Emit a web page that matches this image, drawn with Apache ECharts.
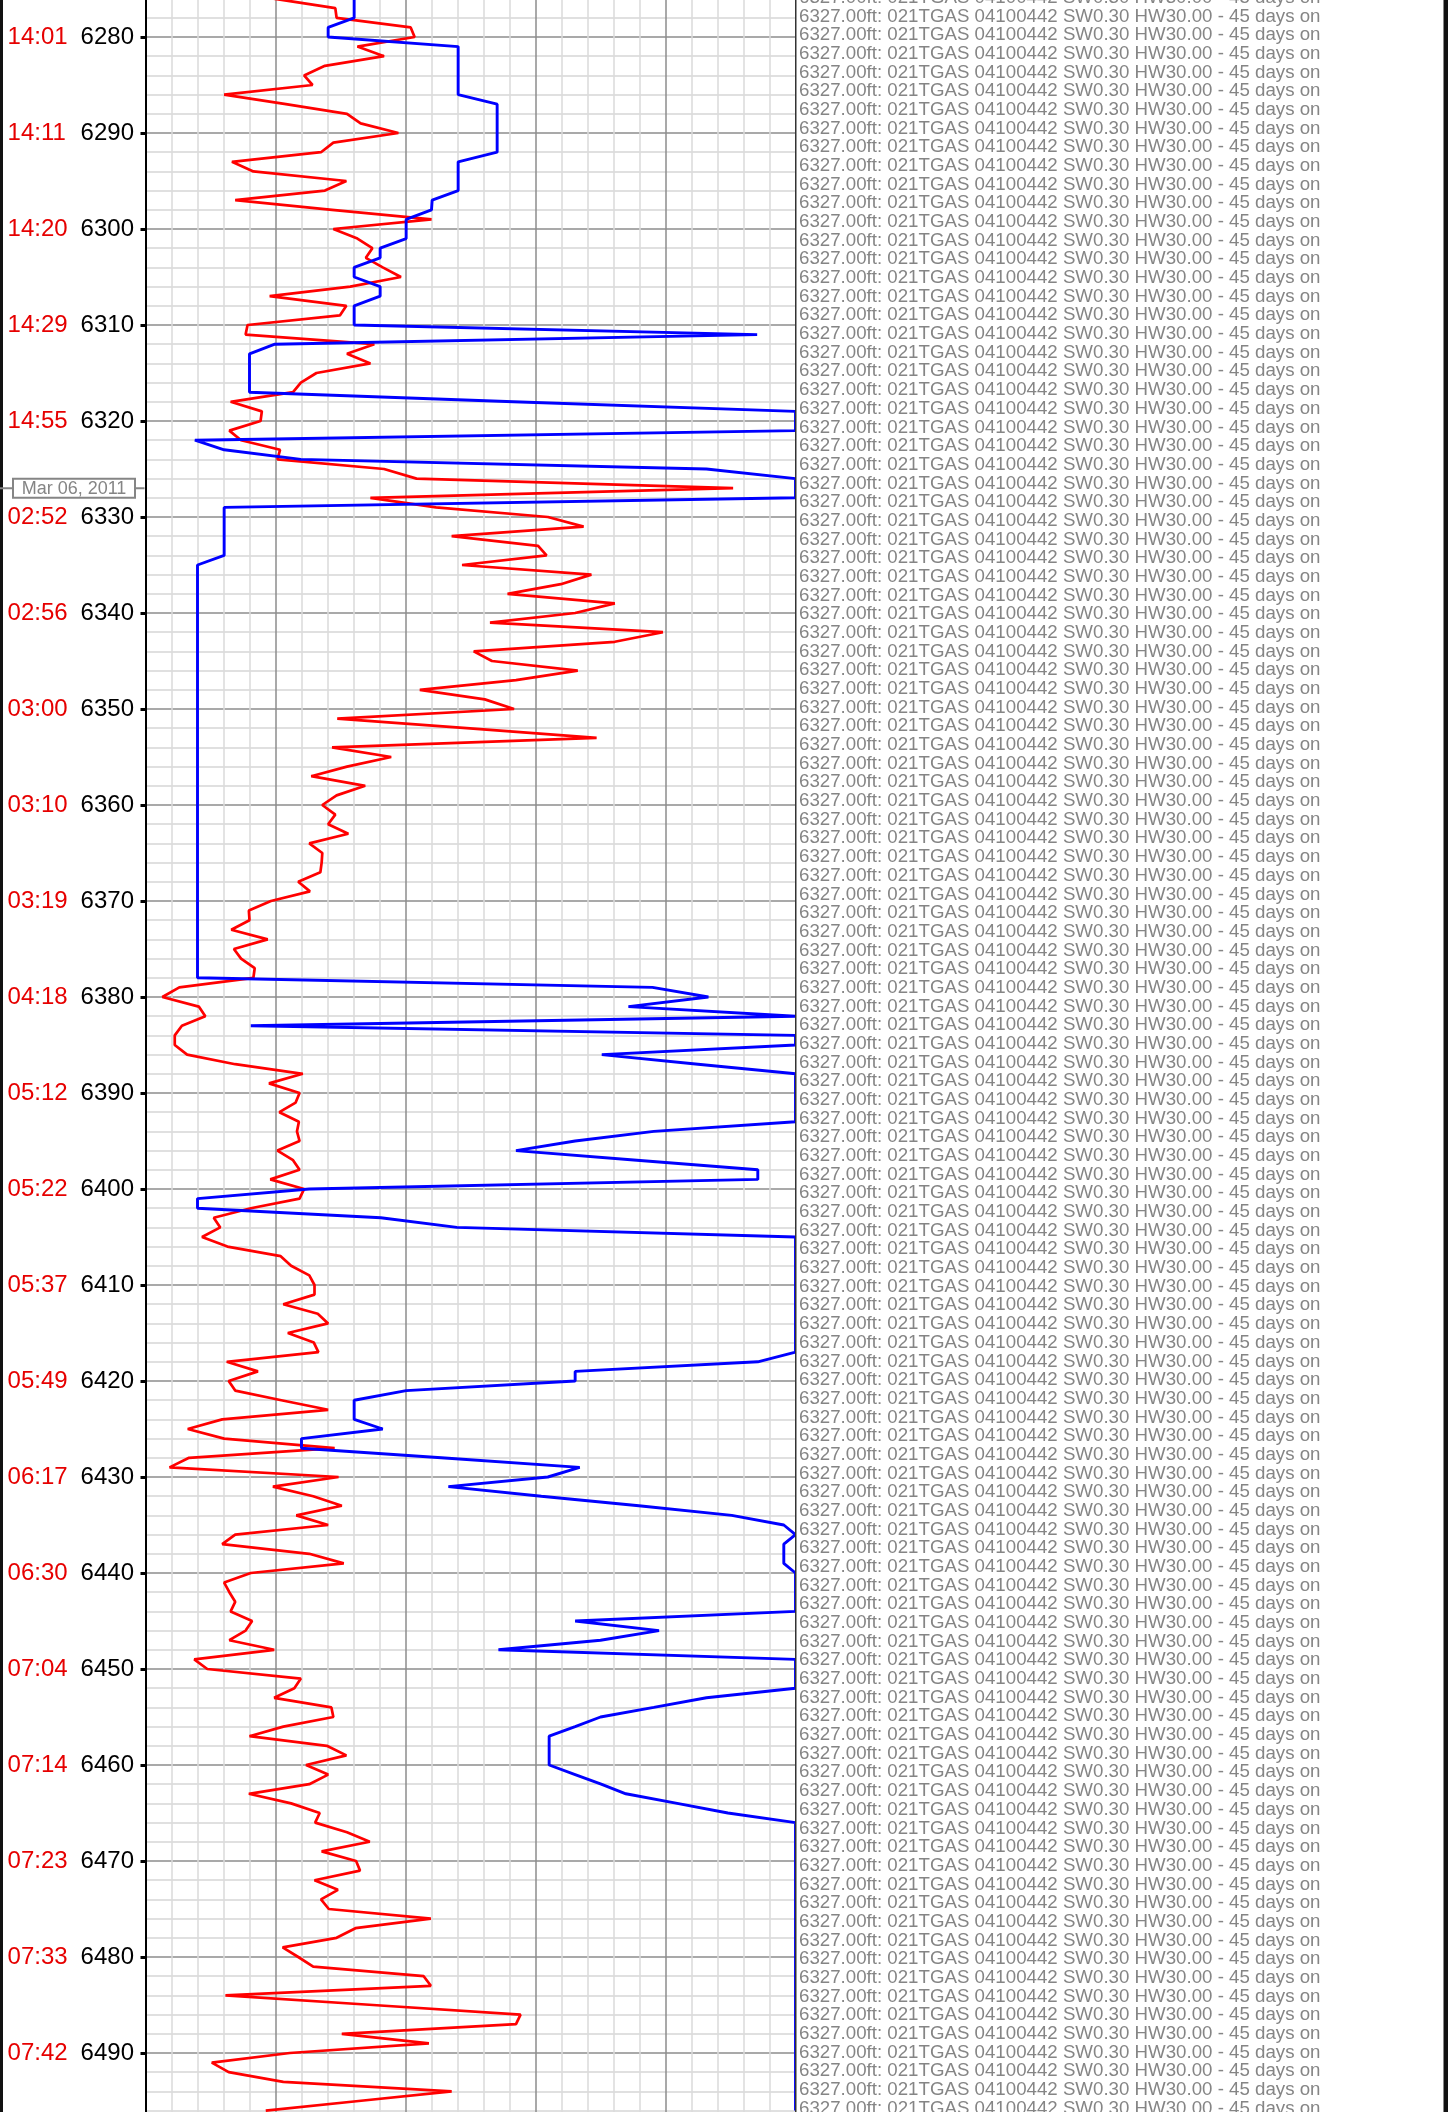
<!DOCTYPE html>
<html><head><meta charset="utf-8">
<script src="https://cdn.jsdelivr.net/npm/echarts@6/dist/echarts.min.js"></script>
<style>
html,body{margin:0;padding:0;background:#fff;overflow:hidden}
#wrap{position:relative;width:1448px;height:2112px;overflow:hidden;background:#fff}
#c{position:absolute;left:0;top:-58.7px;width:1448px;height:2208px}
</style>
</head><body><div id="wrap"><div id="c"></div></div>
<script>
// ---- data ----
const depthStart = 6276; // one value per foot, 6276 .. 6496
const redValues = [
  19.7, 29.2, 29.4, 40.8, 41.4, 32.6, 36.7, 27.6, 24.4, 25.7,
  12.1, 21.6, 31.0, 33.1, 38.9, 28.9, 27.0, 13.3, 16.6, 30.9,
  27.6, 13.8, 28.7, 44.0, 28.9, 32.6, 34.9, 33.9, 36.5, 39.3,
  31.5, 19.1, 30.9, 29.9, 15.7, 15.4, 35.2, 31.0, 34.6, 26.3,
  23.9, 22.7, 13.1, 17.9, 17.7,
  12.9, 14.7, 20.7, 20.3, 36.7, 41.7, 90.4, 34.6, 44.7, 61.9,
  67.4, 47.1, 60.4, 61.7, 48.7, 68.6, 63.9, 55.7, 72.2, 66.1,
  53.0, 79.6, 72.2, 50.5, 53.3, 66.5, 57.0, 42.2, 52.2, 56.7,
  29.5, 49.4, 69.4, 28.7, 37.8, 31.0, 25.5, 33.8, 29.4, 27.2,
  29.2, 28.1, 31.2, 25.2, 27.2, 27.1, 26.9, 23.5, 25.3, 19.3,
  15.9, 16.0, 13.2, 18.8, 13.6, 14.7, 16.8, 16.6, 5.2, 2.6,
  8.2, 9.2, 5.6, 4.5, 4.5, 6.4, 13.8, 24.2, 19.0, 23.7,
  23.1, 20.6, 23.6, 23.3, 23.7, 20.3, 22.7, 23.7, 19.2, 24.4,
  23.7, 16.2, 10.5, 11.5, 8.7, 12.6, 20.8, 22.4, 25.2, 26.0,
  26.0, 21.2, 26.5, 28.1, 21.9, 25.9, 26.6, 12.5, 17.3, 12.8,
  13.8, 20.9, 28.1, 11.8, 6.5, 12.1, 29.1, 6.7, 3.7, 29.7,
  19.6, 25.8, 30.2, 23.2, 28.1, 13.8, 11.8, 25.2, 30.5, 16.2,
  12.1, 12.9, 13.8, 13.1, 16.4, 15.4, 12.9, 19.8, 7.5, 9.5,
  23.9, 22.9, 19.8, 28.6, 28.9, 21.2, 16.0, 27.9, 30.9, 24.7,
  28.1, 25.2, 15.9, 22.4, 26.8, 26.1, 31.0, 34.5, 27.1, 32.4,
  33.0, 26.0, 29.6, 27.0, 28.2, 43.9, 32.3, 29.4, 21.1, 23.5,
  25.8, 42.8, 43.9, 12.3, 35.0, 57.7, 57.0, 30.2, 43.6, 22.2,
  10.2, 12.8, 21.2, 47.1, 32.8, 18.5
];
const blueValues = [
  32.1, 32.1, 32.1, 28.1, 28.1, 48.1, 48.1, 48.1, 48.1, 48.1,
  48.1, 54.1, 54.1, 54.1, 54.1, 54.1, 54.1, 48.1, 48.1, 48.1,
  48.1, 44.1, 44.0, 40.1, 40.1, 40.1, 36.1, 36.1, 32.1, 32.1,
  36.1, 36.1, 32.1, 32.1, 32.1, 94.1, 19.9, 16.0, 16.0, 16.0,
  16.0, 16.0, 56.6, 100, 100,
  100, 7.6, 12.1, 23.9, 86.3, 100, 100, 100, 12.1, 12.1,
  12.1, 12.1, 12.1, 12.1, 8.0, 8.0, 8.0, 8.0, 8.0, 8.0,
  8.0, 8.0, 8.0, 8.0, 8.0, 8.0, 8.0, 8.0, 8.0, 8.0,
  8.0, 8.0, 8.0, 8.0, 8.0, 8.0, 8.0, 8.0, 8.0, 8.0,
  8.0, 8.0, 8.0, 8.0, 8.0, 8.0, 8.0, 8.0, 8.0, 8.0,
  8.0, 8.0, 8.0, 8.0, 8.0, 8.0, 8.0, 8.0, 78.0, 86.6,
  74.3, 100, 16.2, 100, 100, 70.2, 85.0, 100, 100, 100,
  100, 100, 100, 78.2, 66.1, 57.0, 75.6, 94.2, 94.2, 25.2,
  8.0, 8.0, 36.2, 47.9, 100, 100, 100, 100, 100, 100,
  100, 100, 100, 100, 100, 100, 100, 94.2, 66.1, 66.1,
  40.1, 32.1, 32.1, 32.1, 36.5, 24.0, 24.0, 45.5, 66.8, 61.9,
  46.6, 60.9, 75.9, 90.2, 98.2, 100, 98.2, 98.2, 98.2, 100,
  100, 100, 100, 100, 66.1, 79.0, 70.0, 54.3, 100, 100,
  100, 100, 86.3, 78.2, 70.0, 66.1, 62.1, 62.1, 62.1, 62.1,
  66.1, 70.1, 73.9, 81.8, 89.6, 100, 100, 100, 100, 100,
  100, 100, 100, 100, 100, 100, 100, 100, 100, 100,
  100, 100, 100, 100, 100, 100, 100, 100, 100, 100,
  100, 100, 100, 100, 100, 100
];
const tickDepths = [6280, 6290, 6300, 6310, 6320, 6330, 6340, 6350, 6360, 6370, 6380,
  6390, 6400, 6410, 6420, 6430, 6440, 6450, 6460, 6470, 6480, 6490];
const tickTimes = ['14:01', '14:11', '14:20', '14:29', '14:55', '02:52', '02:56', '03:00', '03:10', '03:19', '04:18',
  '05:12', '05:22', '05:37', '05:49', '06:17', '06:30', '07:04', '07:14', '07:23', '07:33', '07:42'];
const dateMarkDepth = 6327;
const dateMarkText = 'Mar 06, 2011';
const noteText = '6327.00ft: 021TGAS 04100442 SW0.30 HW30.00 - 45 days on';
const noteRows = 118;

// ---- chart ----
const OFF = 58.7; // chart div starts this far above the visible window
const FONT = '"Liberation Sans", Arial, Helvetica, sans-serif';
const redData = redValues.map((v, i) => [v, depthStart + i]);
const blueData = blueValues.map((v, i) => [v, depthStart + i]);

const chart = echarts.init(document.getElementById('c'), null, {renderer: 'canvas'});
const option = {
  animation: false,
  backgroundColor: '#ffffff',
  grid: {left: 145.5, right: 652.5, top: 0, bottom: 0, containLabel: false},
  xAxis: {
    type: 'value', min: 0, max: 100, interval: 20,
    axisLine: {show: false}, axisTick: {show: false}, axisLabel: {show: false},
    splitLine: {show: true, lineStyle: {color: '#8c8c8c', width: 1.5}},
    minorTick: {show: false, splitNumber: 5},
    minorSplitLine: {show: true, lineStyle: {color: '#dadada', width: 1.5}}
  },
  yAxis: {
    type: 'value', inverse: true, min: 6270, max: 6500, interval: 10,
    axisLine: {show: true, lineStyle: {color: '#000', width: 2}},
    axisTick: {show: true, length: 5, lineStyle: {color: '#000', width: 3}},
    axisLabel: {
      show: true, margin: 11.5, fontFamily: FONT, fontSize: 24,
      formatter: function (v) {
        const i = tickDepths.indexOf(v);
        if (i < 0) return '';
        return '{t|' + tickTimes[i] + '}{d|' + v + '}';
      },
      rich: {
        t: {color: '#e60000', fontSize: 24, fontFamily: FONT, width: 73, align: 'left'},
        d: {color: '#000000', fontSize: 24, fontFamily: FONT}
      }
    },
    splitLine: {show: true, lineStyle: {color: '#8c8c8c', width: 1.5}},
    minorTick: {show: false, splitNumber: 5},
    minorSplitLine: {show: true, lineStyle: {color: '#e0e0e0', width: 2}}
  },
  series: [
    {type: 'line', name: 'red', data: redData, showSymbol: false, symbol: 'none',
      lineStyle: {color: '#ff0000', width: 2.7}, z: 3},
    {type: 'line', name: 'blue', data: blueData, showSymbol: false, symbol: 'none',
      lineStyle: {color: '#0000ff', width: 2.9}, z: 4}
  ]
};
chart.setOption(option);

const yMark = chart.convertToPixel({yAxisIndex: 0}, dateMarkDepth);
const xRight = chart.convertToPixel({xAxisIndex: 0}, 100);
const H = 2208;
const lines = [];
for (let k = 0; k < noteRows; k++) lines.push(noteText);

chart.setOption({
  graphic: [
    {type: 'rect', shape: {x: xRight + 0.5, y: 0, width: 1448 - xRight, height: H},
      style: {fill: '#ffffff'}, z: 5, silent: true},
    {type: 'text', x: 799, y: OFF - 11.3, z: 6, silent: true,
      style: {text: lines.join('\n'), fontFamily: FONT, fontSize: 18.7, lineHeight: 18.68,
        fill: '#858585', verticalAlign: 'top', align: 'left'}},
    {type: 'rect', shape: {x: xRight - 0.5, y: 0, width: 1.5, height: H}, z: 7, silent: true,
      style: {fill: '#333333'}},
    {type: 'rect', shape: {x: 1443.5, y: 0, width: 4.5, height: H}, z: 7, silent: true,
      style: {fill: '#111111'}},
    {type: 'rect', shape: {x: 0, y: 0, width: 3, height: H}, z: 7, silent: true,
      style: {fill: '#111111'}},
    {type: 'rect', shape: {x: 0, y: yMark - 1, width: 144.5, height: 2}, z: 7, silent: true,
      style: {fill: '#858585'}},
    {type: 'rect', shape: {x: 13, y: yMark - 9.5, width: 122, height: 19}, z: 8, silent: true,
      style: {fill: '#ffffff', stroke: '#858585', lineWidth: 2}},
    {type: 'text', x: 74, y: yMark + 0.5, z: 9, silent: true,
      style: {text: dateMarkText, fontFamily: FONT, fontSize: 18, fill: '#858585',
        align: 'center', verticalAlign: 'middle'}}
  ]
});
</script>
</body></html>
